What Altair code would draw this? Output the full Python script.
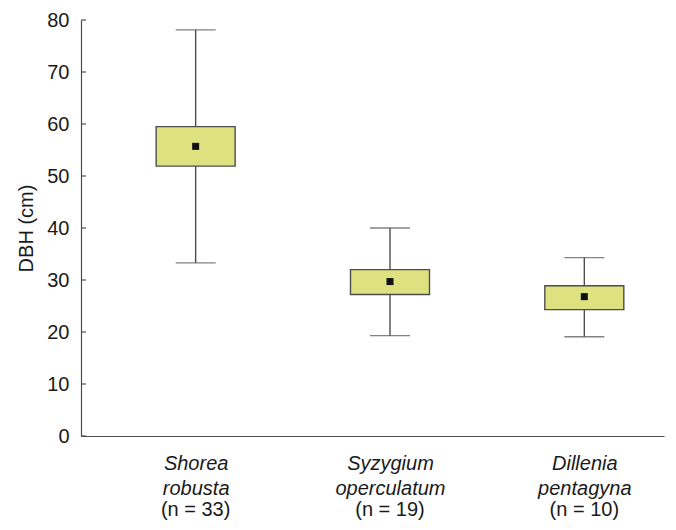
import altair as alt
import pandas as pd

species = ["Shorea robusta", "Syzygium operculatum", "Dillenia pentagyna"]
n_labels = ["(n = 33)", "(n = 19)", "(n = 10)"]
whisker_low = [33.3, 19.3, 19.1]
box_low = [51.9, 27.2, 24.3]
mean_val = [55.7, 29.7, 26.8]
box_high = [59.5, 32.0, 28.9]
whisker_high = [78.1, 40.0, 34.3]
y_ticks = [0, 10, 20, 30, 40, 50, 60, 70, 80]

df = pd.DataFrame({
    "species": species,
    "nlab": n_labels,
    "lo": whisker_low,
    "q1": box_low,
    "mean": mean_val,
    "q3": box_high,
    "hi": whisker_high,
})
ticks_df = pd.DataFrame({"v": y_ticks})

W, H = 583, 416
FONT = "Liberation Sans"
FS = 20
STROKE = "#4d4d4d"
TXT = "#1a1a1a"

xscale = alt.Scale(type="point", padding=0.5, align=0.59, domain=species)
yscale = alt.Scale(domain=[0, 80], nice=False)

x_enc = alt.X("species:N", scale=xscale, sort=species,
              axis=alt.Axis(title=None, ticks=False, domain=True, domainColor=STROKE,
                            domainWidth=1.2, labelAngle=0,
                            labelExpr="split(datum.label, ' ')",
                            labelFont=FONT, labelFontSize=FS, labelFontStyle="italic",
                            labelColor=TXT, labelLineHeight=25, labelPadding=17,
                            labelBaseline="top"))

base = alt.Chart(df)

whisker = base.mark_rule(color=STROKE, strokeWidth=1.4).encode(
    x=x_enc,
    y=alt.Y("lo:Q", scale=yscale,
            axis=alt.Axis(title="DBH (cm)", values=y_ticks, ticks=False, grid=False,
                          domainColor=STROKE, domainWidth=1.2,
                          labelFont=FONT, labelFontSize=FS, labelColor=TXT,
                          labelPadding=12, titleFont=FONT, titleFontSize=FS,
                          titleFontWeight="normal", titleColor=TXT, titlePadding=10)),
    y2="hi:Q",
)

caps_lo = base.mark_tick(color=STROKE, size=40, thickness=1.4, orient="horizontal").encode(
    x=alt.X("species:N", scale=xscale, sort=species), y=alt.Y("lo:Q", scale=yscale))
caps_hi = base.mark_tick(color=STROKE, size=40, thickness=1.4, orient="horizontal").encode(
    x=alt.X("species:N", scale=xscale, sort=species), y=alt.Y("hi:Q", scale=yscale))

box = base.mark_bar(size=79, fill="#dde17f", stroke=STROKE, strokeWidth=1.4).encode(
    x=alt.X("species:N", scale=xscale, sort=species),
    y=alt.Y("q1:Q", scale=yscale), y2="q3:Q")

mean_pt = base.mark_square(size=49, color="#111111", opacity=1).encode(
    x=alt.X("species:N", scale=xscale, sort=species),
    y=alt.Y("mean:Q", scale=yscale))

nlabels = base.mark_text(font=FONT, fontSize=FS, color=TXT, baseline="middle").encode(
    x=alt.X("species:N", scale=xscale, sort=species),
    y=alt.value(H + 74),
    text="nlab:N")

yticks = alt.Chart(ticks_df).mark_rule(color=STROKE, strokeWidth=1.2).encode(
    x=alt.value(0), x2=alt.value(5), y=alt.Y("v:Q", scale=yscale))

chart = alt.layer(whisker, caps_lo, caps_hi, box, mean_pt, nlabels, yticks).properties(
    width=W, height=H,
    autosize=alt.AutoSizeParams(type="none"),
    padding={"left": 73, "top": 12, "right": 4, "bottom": 86},
    background="white",
).configure_view(stroke=None)

chart.save("out.html", embed_options={"renderer": "svg", "actions": False})
